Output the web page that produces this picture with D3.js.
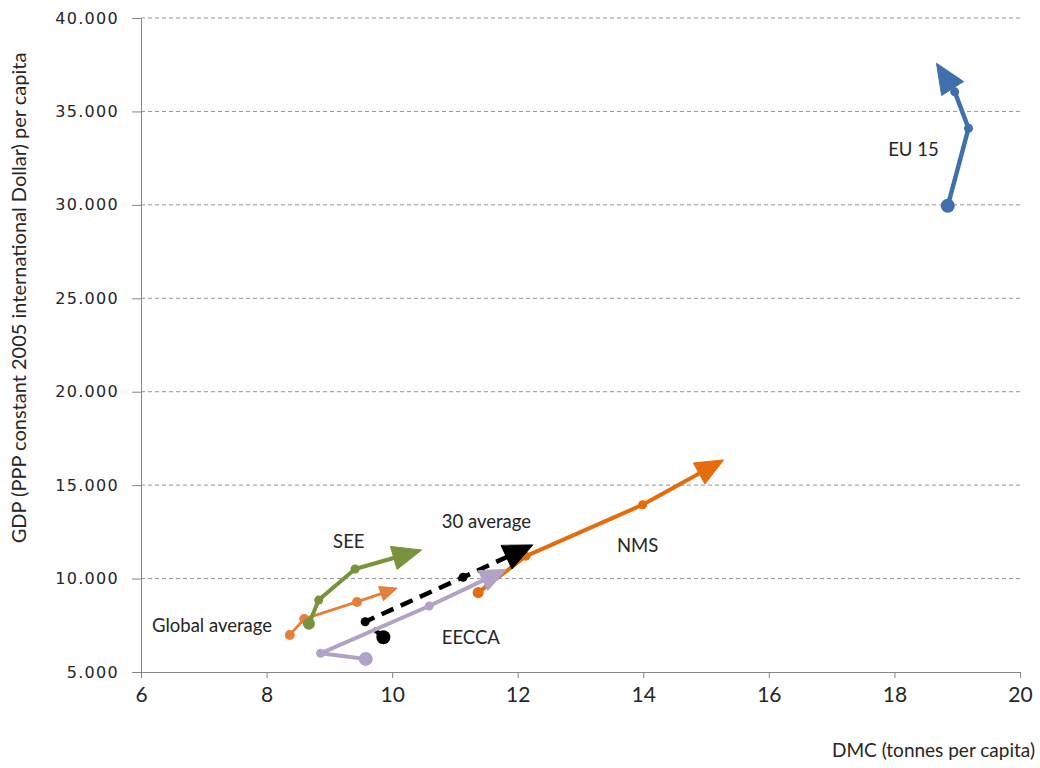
<!DOCTYPE html>
<html>
<head>
<meta charset="utf-8">
<script src="https://cdn.jsdelivr.net/npm/d3@7"></script>
<style>
  html, body { margin: 0; padding: 0; background: #fff; }
  svg { display: block; }
</style>
</head>
<body>
<svg id="chart" width="1040" height="768"></svg>
<script>
// Axis ticks
const xTicks = [6, 8, 10, 12, 14, 16, 18, 20];
const yTicks = [5000, 10000, 15000, 20000, 25000, 30000, 35000, 40000];

// Region trajectories: DMC (tonnes per capita) vs GDP per capita.
// The last point of each series is where the arrow points.
const seriesNames = ["NMS", "Global average", "SEE", "30 average", "EECCA", "EU 15"];
const nmsDmc = [11.37, 12.13, 13.99, 15.28];
const nmsGdp = [9250, 11200, 13950, 16350];
const globalDmc = [8.37, 8.60, 9.44, 10.08];
const globalGdp = [6980, 7840, 8750, 9490];
const seeDmc = [8.675, 8.83, 9.41, 10.47];
const seeGdp = [7580, 8850, 10510, 11530];
const avg30Dmc = [9.86, 9.57, 11.13, 12.24];
const avg30Gdp = [6860, 7690, 10070, 11800];
const eeccaDmc = [9.58, 8.86, 10.59, 11.82];
const eeccaGdp = [5700, 6000, 8530, 10490];
const eu15Dmc = [18.85, 19.18, 18.96, 18.67];
const eu15Gdp = [29950, 34100, 36050, 37580];

const seriesDmc = [nmsDmc, globalDmc, seeDmc, avg30Dmc, eeccaDmc, eu15Dmc];
const seriesGdp = [nmsGdp, globalGdp, seeGdp, avg30Gdp, eeccaGdp, eu15Gdp];

// Series annotations (text and anchor in data units)
const labelTexts = ["EU 15", "SEE", "30 average", "EECCA", "NMS", "Global average"];
const labelDmc = [17.90, 9.06, 10.79, 10.79, 13.58, 6.175];
const labelGdp = [32620, 11640, 12710, 6500, 11420, 7140];

// Drawing styles per series
const styles = {
  "NMS":            { color: "#e46c0a", width: 4,   dash: null,   r0: 5.5, r: 4.5, head: [28, 12] },
  "Global average": { color: "#e5803c", width: 2.8, dash: null,   r0: 5,   r: 5,   head: [17, 7.5] },
  "SEE":            { color: "#77933c", width: 4,   dash: null,   r0: 6,   r: 4.5, head: [29, 12] },
  "30 average":     { color: "#000000", width: 4.5, dash: "13,8", r0: 7,   r: 4.5, head: [29, 13] },
  "EECCA":          { color: "#b3a2c7", width: 4,   dash: null,   r0: 7,   r: 4.5, head: [26, 11] },
  "EU 15":          { color: "#3f70ad", width: 4.5, dash: null,   r0: 7,   r: 4.5, head: [30, 13] }
};

const svg = d3.select("#chart");
const x = d3.scaleLinear().domain([6, 20]).range([141, 1020]);
const y = d3.scaleLinear().domain([5000, 40000]).range([672, 18]);

const fmt = v => d3.format(",")(v).replace(/,/g, ".");

// Horizontal dashed gridlines
svg.append("g")
  .selectAll("line")
  .data(yTicks.filter(v => v > 5000))
  .join("line")
  .attr("x1", x(6)).attr("x2", x(20))
  .attr("y1", d => y(d)).attr("y2", d => y(d))
  .attr("stroke", "#959595")
  .attr("stroke-width", 1)
  .attr("stroke-dasharray", "4,3");

// Y axis
const yAxis = svg.append("g")
  .attr("transform", `translate(${x(6)},0)`)
  .call(d3.axisLeft(y).tickValues(yTicks).tickFormat(fmt).tickSize(9).tickPadding(13));
yAxis.select(".domain").attr("stroke", "#868686");
yAxis.selectAll(".tick line").attr("stroke", "#868686");
yAxis.selectAll(".tick text")
  .attr("font-family", "DejaVu Sans")
  .attr("font-size", 16)
  .attr("letter-spacing", "1.3px")
  .attr("fill", "#262626");

// X axis
const xAxis = svg.append("g")
  .attr("transform", `translate(0,${y(5000)})`)
  .call(d3.axisBottom(x).tickValues(xTicks).tickFormat(d3.format("d")).tickSize(6).tickPadding(9));
xAxis.select(".domain").attr("stroke", "#868686");
xAxis.selectAll(".tick line").attr("stroke", "#868686");
xAxis.selectAll(".tick text")
  .attr("font-family", "Lato")
  .attr("font-size", 21)
  .attr("fill", "#262626");

// Axis titles
svg.append("text")
  .attr("x", 1035).attr("y", 757)
  .attr("text-anchor", "end")
  .attr("font-family", "Lato").attr("font-size", 19)
  .attr("fill", "#262626")
  .text("DMC (tonnes per capita)");

svg.append("text")
  .attr("transform", "translate(26,298) rotate(-90)")
  .attr("text-anchor", "middle")
  .attr("font-family", "Lato").attr("font-size", 20)
  .attr("fill", "#262626")
  .text("GDP (PPP constant 2005 international Dollar) per capita");

// Trajectories with arrowheads
const plot = svg.append("g");
seriesNames.forEach((name, i) => {
  const st = styles[name];
  const pts = seriesDmc[i].map((v, k) => [x(v), y(seriesGdp[i][k])]);
  const tip = pts[pts.length - 1];
  const prev = pts[pts.length - 2];
  const dx = tip[0] - prev[0], dy = tip[1] - prev[1];
  const len = Math.hypot(dx, dy);
  const ux = dx / len, uy = dy / len;
  const [hl, hw] = st.head;
  const base = [tip[0] - ux * hl * 0.85, tip[1] - uy * hl * 0.85];
  const linePts = pts.slice(0, -1).concat([base]);

  const g = plot.append("g");
  g.append("path")
    .attr("d", d3.line()(linePts))
    .attr("fill", "none")
    .attr("stroke", st.color)
    .attr("stroke-width", st.width)
    .attr("stroke-linejoin", "round")
    .attr("stroke-dasharray", st.dash);

  const bm = [tip[0] - ux * hl, tip[1] - uy * hl];
  const head = [
    tip,
    [bm[0] - uy * hw, bm[1] + ux * hw],
    [bm[0] + uy * hw, bm[1] - ux * hw]
  ];
  g.append("path")
    .attr("d", d3.line()(head) + "Z")
    .attr("fill", st.color)
    .attr("stroke", st.color)
    .attr("stroke-width", 1)
    .attr("stroke-linejoin", "round");

  g.selectAll("circle")
    .data(pts.slice(0, -1))
    .join("circle")
    .attr("cx", d => d[0]).attr("cy", d => d[1])
    .attr("r", (d, k) => k === 0 ? st.r0 : st.r)
    .attr("fill", st.color);
});

// Series labels
svg.append("g")
  .selectAll("text")
  .data(labelTexts)
  .join("text")
  .attr("x", (d, i) => x(labelDmc[i]))
  .attr("y", (d, i) => y(labelGdp[i]))
  .attr("font-family", "Lato")
  .attr("font-size", 18.5)
  .attr("fill", "#262626")
  .text(d => d);
</script>
</body>
</html>
